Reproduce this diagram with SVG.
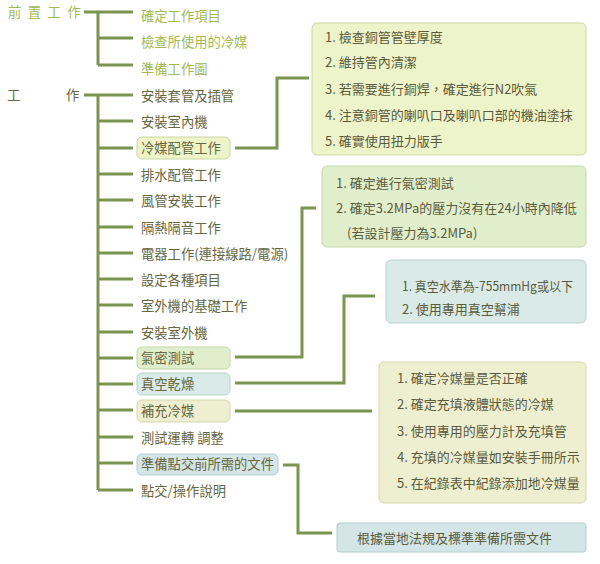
<svg xmlns="http://www.w3.org/2000/svg" width="600" height="564" viewBox="0 0 600 564">
<style>
text{font-family:"Noto Sans CJK TC","Noto Sans CJK SC",sans-serif;font-size:13.3px;}
.pre{fill:#a0ba56;}
.main{fill:#66663f;}
.sub{fill:#5a5a3c;font-size:13px;}
.ln{stroke:#7b944f;stroke-width:3;fill:none;}
.b1{fill:#eef4c9;stroke:#cad8a2;}
.b2{fill:#e1eecc;stroke:#c4d8a6;}
.b3{fill:#d9eae7;stroke:#b9d2ce;}
.b4{fill:#eeeed0;stroke:#d6d6ac;}
.b5{fill:#d3e5e6;stroke:#b3cdce;}
</style>
<rect width="600" height="564" fill="#ffffff"/>
<g id="connectors" class="ln">
<path d="M84 12H133M98 12V65M98 38H133M98 65H133"/>
<path d="M84 95H133M98 95V490"/>
<path d="M98 121H133M98 148H133M98 174H133M98 200H133M98 227H133M98 253H133M98 279H133M98 305H133M98 332H133M98 358H133M98 384H133M98 410H133M98 437H133M98 463H133M98 490H133"/>
<path d="M235 148H277V78H309"/>
<path d="M235 357H302V208H316"/>
<path d="M235 383H344V296H375"/>
<path d="M235 411H372"/>
<path d="M283 465H298V533H332"/>
</g>
<g id="pre-title"><text class="pre" x="8" y="17" letter-spacing="6.5">前置工作</text></g>
<g id="pre-1"><text class="pre" x="141" y="21">確定工作項目</text></g>
<g id="pre-2"><text class="pre" x="141" y="47">檢查所使用的冷媒</text></g>
<g id="pre-3"><text class="pre" x="141" y="74">準備工作圖</text></g>
<g id="work-title"><text class="main" x="7" y="100">工</text><text class="main" x="66" y="100">作</text></g>
<g id="w1"><text class="main" x="141" y="101">安裝套管及插管</text></g>
<g id="w2"><text class="main" x="141" y="127">安裝室內機</text></g>
<g id="w3"><rect class="b1" x="137" y="137" width="93" height="22" rx="5"/><text class="main" x="141" y="153">冷媒配管工作</text></g>
<g id="w4"><text class="main" x="141" y="180">排水配管工作</text></g>
<g id="w5"><text class="main" x="141" y="206">風管安裝工作</text></g>
<g id="w6"><text class="main" x="141" y="233">隔熱隔音工作</text></g>
<g id="w7"><text class="main" x="141" y="259">電器工作(連接線路/電源)</text></g>
<g id="w8"><text class="main" x="141" y="285">設定各種項目</text></g>
<g id="w9"><text class="main" x="141" y="311">室外機的基礎工作</text></g>
<g id="w10"><text class="main" x="141" y="338">安裝室外機</text></g>
<g id="w11"><rect class="b2" x="137" y="347" width="93" height="22" rx="5"/><text class="main" x="141" y="363">氣密測試</text></g>
<g id="w12"><rect class="b3" x="137" y="373" width="93" height="22" rx="5"/><text class="main" x="141" y="389">真空乾燥</text></g>
<g id="w13"><rect class="b4" x="137" y="400" width="93" height="22" rx="5"/><text class="main" x="141" y="416">補充冷媒</text></g>
<g id="w14"><text class="main" x="141" y="443">測試運轉 調整</text></g>
<g id="w15"><rect class="b5" x="137" y="454" width="141" height="21" rx="5"/><text class="main" x="141" y="469">準備點交前所需的文件</text></g>
<g id="w16"><text class="main" x="141" y="496">點交/操作說明</text></g>
<g id="box1"><rect class="b1" x="312" y="23" width="274" height="132" rx="5"/>
<text class="sub" x="325" y="42">1. 檢查銅管管壁厚度</text>
<text class="sub" x="325" y="67">2. 維持管內清潔</text>
<text class="sub" x="325" y="94">3. 若需要進行銅焊，確定進行N2吹氣</text>
<text class="sub" x="325" y="120">4. 注意銅管的喇叭口及喇叭口部的機油塗抹</text>
<text class="sub" x="325" y="146">5. 確實使用扭力版手</text></g>
<g id="box2"><rect class="b2" x="322" y="166" width="264" height="81" rx="5"/>
<text class="sub" x="336" y="188">1. 確定進行氣密測試</text>
<text class="sub" x="336" y="213">2. 確定3.2MPa的壓力沒有在24小時內降低</text>
<text class="sub" x="347" y="238">(若設計壓力為3.2MPa)</text></g>
<g id="box3"><rect class="b3" x="386" y="260" width="200" height="63" rx="5"/>
<text class="sub" x="402" y="291" textLength="171" lengthAdjust="spacingAndGlyphs">1. 真空水準為-755mmHg或以下</text>
<text class="sub" x="402" y="314">2. 使用專用真空幫浦</text></g>
<g id="box4"><rect class="b4" x="379" y="362" width="207" height="141" rx="5"/>
<text class="sub" x="397" y="383">1. 確定冷媒量是否正確</text>
<text class="sub" x="397" y="409">2. 確定充填液體狀態的冷媒</text>
<text class="sub" x="397" y="436">3. 使用專用的壓力計及充填管</text>
<text class="sub" x="397" y="462">4. 充填的冷媒量如安裝手冊所示</text>
<text class="sub" x="397" y="488">5. 在紀錄表中紀錄添加地冷媒量</text></g>
<g id="box5"><rect class="b5" x="337" y="523" width="249" height="29" rx="3"/>
<text class="sub" x="357" y="543">根據當地法規及標準準備所需文件</text></g>
</svg>
